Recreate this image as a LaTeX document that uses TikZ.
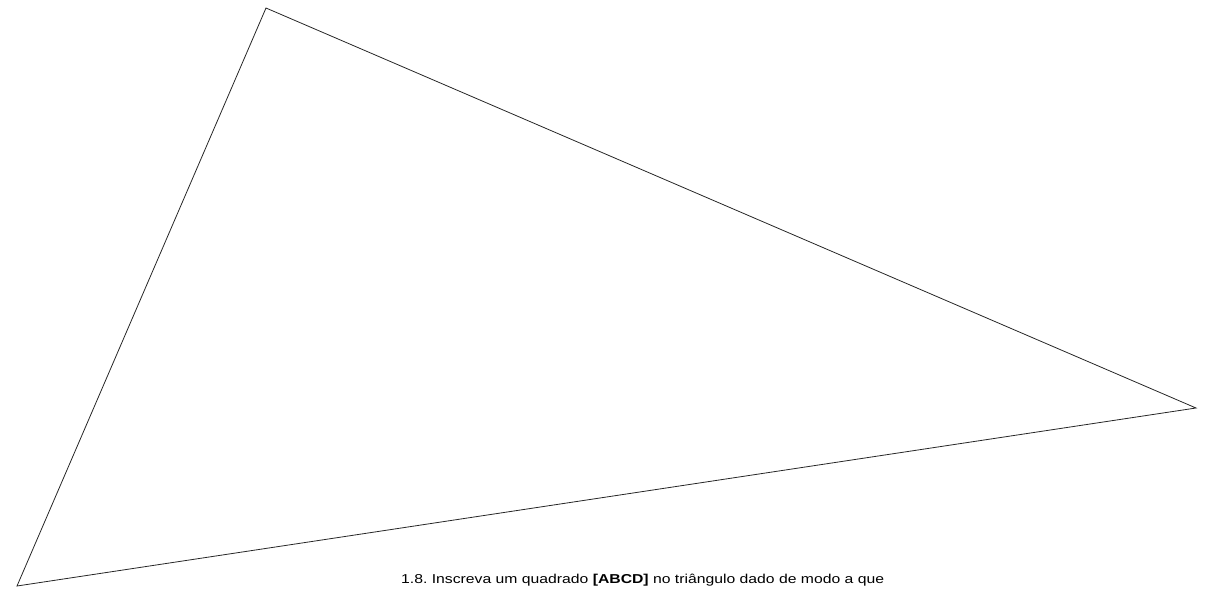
\documentclass[tikz,border=0pt]{standalone}
\usepackage{fontspec}
\setmainfont{Liberation Sans}
\newfontfamily\capfont[FakeStretch=1.22]{Liberation Sans}
\frenchspacing
\begin{document}
\begin{tikzpicture}[x=1pt,y=-1pt,
  edge/.style={draw=black!85,line width=0.8pt},
  caption/.style={font=\capfont\fontsize{12.9}{15}\selectfont,inner sep=0pt,anchor=base west}]
\useasboundingbox (0,0) rectangle (1211,590);
\coordinate (A) at (266,8);
\coordinate (B) at (17,586);
\coordinate (C) at (1196,408);
\draw[edge,line join=miter] (A) -- (B) -- (C) -- cycle;
\node[caption] (t) at (401,583) {1.8. Inscreva um quadrado \textbf{[ABCD]} no triângulo dado de modo a que};
\end{tikzpicture}
\end{document}
